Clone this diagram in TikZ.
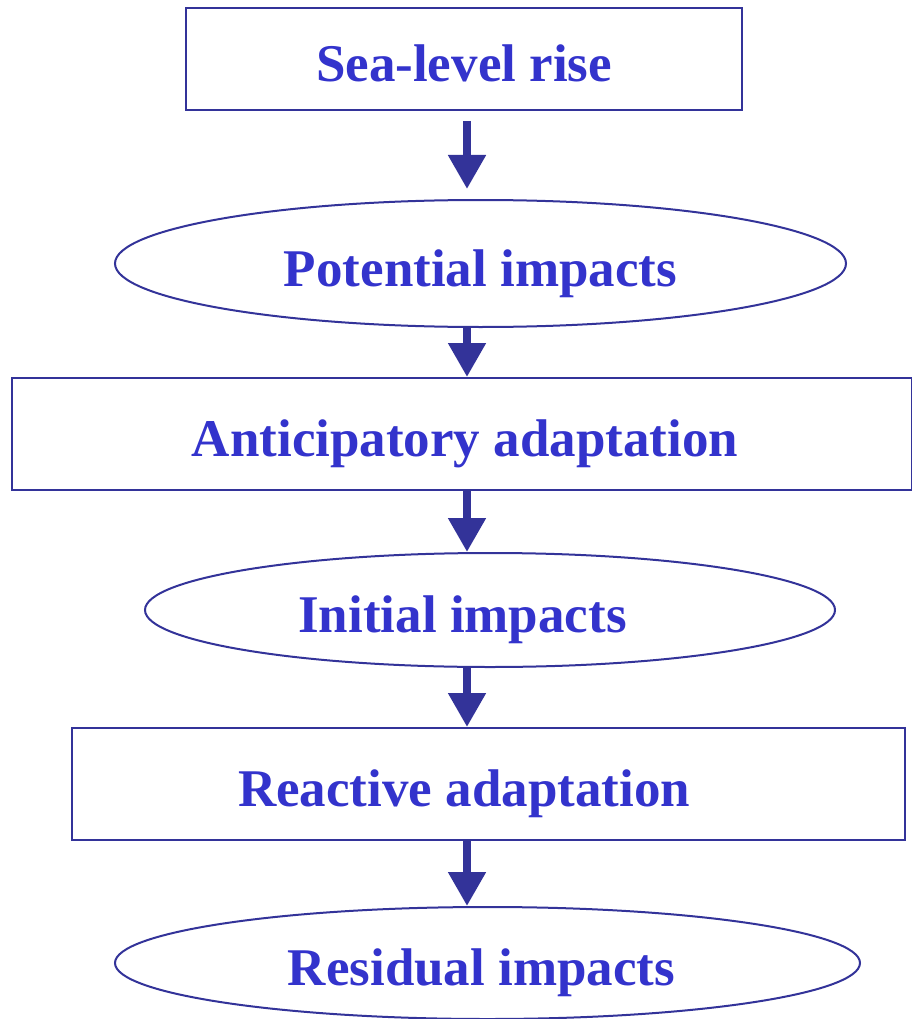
\documentclass[tikz,border=0pt]{standalone}
\usepackage{fontspec}
\setmainfont{Liberation Serif}
\usepackage{tikz}
\usetikzlibrary{arrows.meta,shapes.geometric}
\definecolor{lineblue}{HTML}{333399}
\definecolor{txtblue}{HTML}{3333CC}
\tikzset{
  flownode/.style = {inner sep=0pt, draw=lineblue, line width=2pt},
  box/.style = {flownode, rectangle},% boite rectangulaire
  oval/.style = {flownode, ellipse},% ellipse
  txt/.style = {inner sep=0pt, text=txtblue, text height=45pt, text depth=0pt,
    font=\bfseries\fontsize{53}{60}\selectfont},% texte des etapes
  flow/.style = {draw=lineblue, line width=8pt,
    -{Triangle[width=36pt,length=34pt]}}% fleche epaisse
}
\begin{document}
\begin{tikzpicture}
\useasboundingbox (0,0) rectangle (912pt,-1019pt);
\coordinate (axis) at (467pt,0);
\node [box, minimum width=556pt, minimum height=102pt,
  label={[txt]center:Sea-level rise}] (slr) at (464pt,-59pt) {};
\node [oval, minimum width=731pt, minimum height=127pt,
  label={[txt]center:Potential impacts}] (potential) at (480.5pt,-263.5pt) {};
\node [box, minimum width=900pt, minimum height=112pt,
  label={[txt, xshift=3pt]center:Anticipatory adaptation}] (anticip) at (462pt,-434pt) {};
\node [oval, minimum width=690pt, minimum height=114pt,
  label={[txt, xshift=-27.5pt]center:Initial impacts}] (initial) at (490pt,-610pt) {};
\node [box, minimum width=833pt, minimum height=112pt,
  label={[txt, xshift=-24.5pt]center:Reactive adaptation}] (reactive) at (488.5pt,-784pt) {};
\node [oval, minimum width=745pt, minimum height=112pt,
  label={[txt, xshift=-6pt]center:Residual impacts}] (residual) at (487.5pt,-963pt) {};
\draw [flow, shorten <=10pt, shorten >=10pt] (slr.south -| axis) -- (potential.north -| axis);
\draw [flow] (potential.south -| axis) -- (anticip.north -| axis);
\draw [flow] (anticip.south -| axis) -- (initial.north -| axis);
\draw [flow] (initial.south -| axis) -- (reactive.north -| axis);
\draw [flow] (reactive.south -| axis) -- (residual.north -| axis);
\end{tikzpicture}
\end{document}
